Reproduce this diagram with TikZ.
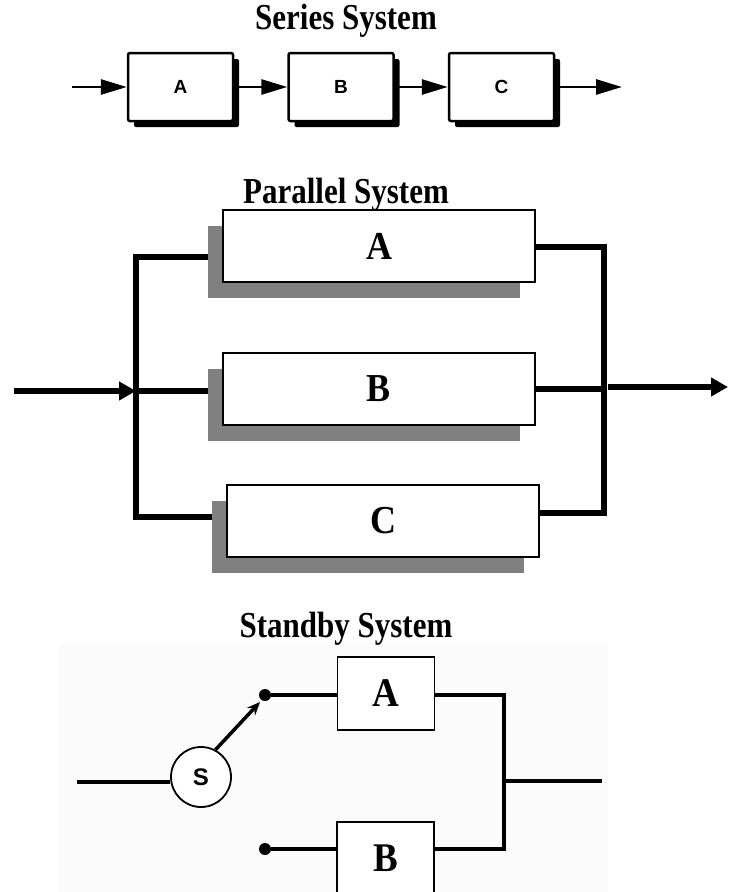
\documentclass[tikz,border=0pt]{standalone}
\usepackage{fontspec}
\setmainfont{Liberation Serif}
\newfontfamily\arialfont{Liberation Sans}
\usetikzlibrary{arrows.meta,positioning,shadows,backgrounds}
\newcommand{\talltext}[2][1.18]{\scalebox{1}[#1]{#2}}

\begin{document}
\begin{tikzpicture}[
        x=1pt, y=-1pt,
        every node/.style={font=\bfseries, align=center},
        title/.style={font=\fontsize{31}{36}\selectfont\bfseries, anchor=base},
        sbox/.style={draw, line width=2.5pt, rounded corners=2pt, fill=white, minimum width=105pt, minimum height=68pt, inner sep=0pt,
          font=\arialfont\fontsize{19}{20}\selectfont\bfseries,
          drop shadow={shadow xshift=6pt, shadow yshift=-6pt, fill=black, opacity=1}},
        sarrow/.style={line width=2.8pt, -{Triangle[length=26pt,width=15pt]}},
        pbox/.style={draw, line width=2pt, fill=white, minimum width=312pt, minimum height=72pt, inner sep=0pt,
          font=\fontsize{36}{40}\selectfont\bfseries,
          drop shadow={shadow xshift=-15pt, shadow yshift=-16pt, fill=gray, opacity=1}},
        pline/.style={line width=5.5pt},
        parrow/.style={pline, -{Triangle[length=17pt,width=18pt]}},
        tbox/.style={draw, line width=1.5pt, fill=white, minimum width=97pt, minimum height=73pt, inner sep=0pt,
          font=\fontsize{37}{40}\selectfont\bfseries},
        tline/.style={line width=4pt},
        dot/.style={circle, fill=black, inner sep=0pt, minimum size=12pt}
      ]
      \useasboundingbox (0,0) rectangle (732,892);

      \node[title] (ttl1) at (346,29) {\talltext{Series System}};
      \node[sbox] (sA) at (180.5,87) {A};
      \node[sbox, right=53pt of sA] (sB) {B};
      \node[sbox, right=53pt of sB] (sC) {C};
      \coordinate (sin) at (72,87);
      \coordinate (sout) at (622,87);
      \draw[sarrow] (sin) -- (sA);
      \draw[sarrow] (sA) -- (sB);
      \draw[sarrow] (sB) -- (sC);
      \draw[sarrow] (sC) -- (sout);

      \node[pbox] (pA) at (379,246) {\talltext[1.1]{A}};
      \node[pbox, below=69pt of pA] (pB) {\talltext[1.1]{B}};
      \node[pbox, below=58pt of pB, xshift=4pt] (pC) {\talltext[1.1]{C}};
      \node[title] (ttl2) at (346,203) {\talltext{Parallel System}};
      \coordinate (pin) at (14,391);
      \coordinate (lbT) at (136,257);
      \coordinate (lbB) at (136,517);
      \coordinate (rbT) at (604,247);
      \coordinate (rbB) at (604,513);
      \coordinate (pstart) at (608,387);
      \coordinate (pout) at (728,387);
      \begin{scope}[on background layer]
        \draw[pline] (pA.west |- lbT) -| (lbB) -- (pC.west |- lbB);
        \draw[pline] (lbB |- pin) -- (pB.west |- pin);
      \end{scope}
      \draw[parrow] (pin) -- (lbB |- pin);
      \draw[pline] (pA.east |- rbT) -| (rbB) -- (pC.east |- rbB);
      \draw[pline] (pB.east) -- (rbB |- pB.east);
      \draw[parrow] (pstart) -- (pout);

      \begin{scope}[on background layer]
        \fill[black!1.5] (58,642) rectangle (608,892);
      \end{scope}
      \node[title] (ttl3) at (346,637) {\talltext{Standby System}};
      \node[tbox] (tA) at (386,693.5) {\talltext[1.1]{A}};
      \node[tbox, anchor=north] (tB) at (385.5,821) {\talltext[1.1]{B}};
      \node[draw, circle, line width=1.8pt, fill=white, minimum size=60pt, inner sep=0pt,
        font=\arialfont\fontsize{24}{24}\selectfont\bfseries] (sw) at (201,777) {S};
      \node[dot] (dA) at (265,695) {};
      \node[dot] (dB) at (265,849) {};
      \coordinate (tin) at (77,782);
      \coordinate (tip) at (260,702);
      \coordinate (tbus) at (504,781);
      \coordinate (tout) at (602,781);
      \draw[tline] (tin) -- (sw.west |- tin);
      \draw[line width=3.5pt, -{Stealth[length=13pt,width=11pt]}] (sw.62) -- (tip);
      \draw[tline] (dA) -- (tA.west |- dA);
      \draw[tline] (dB) -- (tB.west |- dB);
      \draw[tline] (tA.east |- dA) -| (tbus) |- (tB.east |- dB);
      \draw[tline] (tbus) -- (tout);
    \end{tikzpicture}
\end{document}
